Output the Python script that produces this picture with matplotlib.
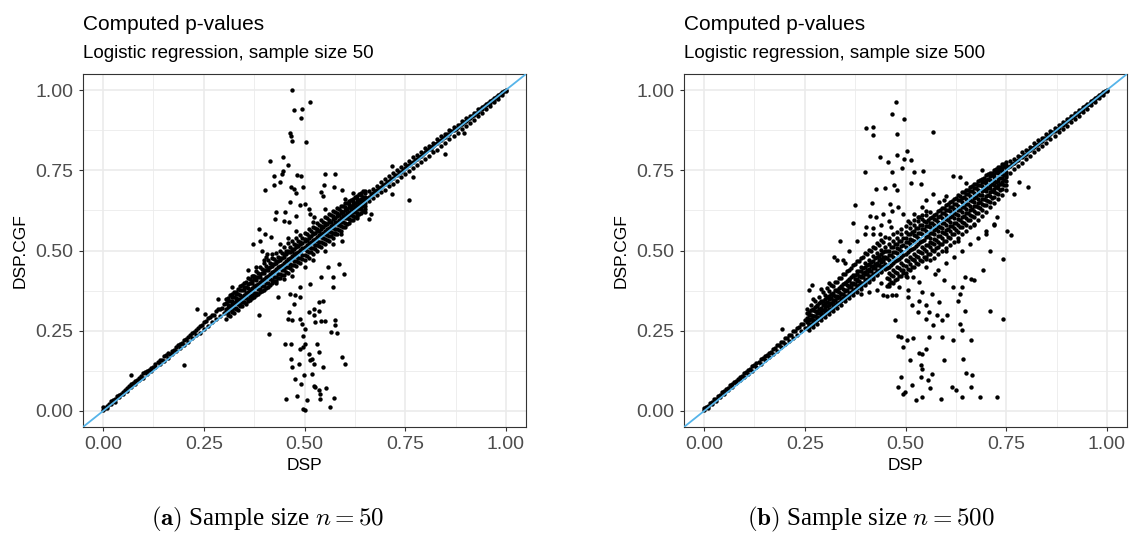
import matplotlib
matplotlib.use('Agg')
import matplotlib.pyplot as plt

plt.rcParams['font.family'] = ['Liberation Sans', 'DejaVu Sans']
plt.rcParams['mathtext.fontset'] = 'cm'

# ---- data: DSP (x) vs DSP.CGF (y) ----
tick_vals = [0.0, 0.25, 0.5, 0.75, 1.0]
tick_labels = ['0.00', '0.25', '0.50', '0.75', '1.00']
minor_vals = [0.125, 0.375, 0.625, 0.875]

# dense band along the diagonal, n = 50: DSP -> list of DSP.CGF values
band_a = {
    0.00: [0.004, 0.012], 0.01: [0.016, 0.008], 0.02: [0.030, 0.022], 0.03: [0.036, 0.028],
    0.04: [0.050, 0.044], 0.05: [0.058, 0.052], 0.06: [0.070, 0.062], 0.07: [0.083, 0.074],
    0.08: [0.092, 0.085], 0.09: [0.104, 0.095], 0.10: [0.118, 0.104], 0.11: [0.126, 0.116],
    0.12: [0.135, 0.124], 0.13: [0.146, 0.136], 0.14: [0.158, 0.145], 0.15: [0.170, 0.156],
    0.16: [0.182, 0.165], 0.17: [0.186, 0.176], 0.18: [0.198, 0.186], 0.19: [0.210, 0.195],
    0.20: [0.222, 0.205], 0.21: [0.230, 0.214], 0.22: [0.244, 0.226], 0.23: [0.252, 0.236],
    0.24: [0.266, 0.244], 0.25: [0.276, 0.256], 0.26: [0.290, 0.266], 0.27: [0.300, 0.276],
    0.28: [0.312, 0.286], 0.29: [0.318, 0.296], 0.30: [0.334, 0.306],
    0.005: [0.010], 0.015: [0.022], 0.025: [0.034], 0.035: [0.046], 0.045: [0.054],
    0.055: [0.066], 0.065: [0.078], 0.075: [0.086], 0.085: [0.098], 0.095: [0.108],
    0.105: [0.122], 0.115: [0.128], 0.125: [0.138], 0.135: [0.152], 0.145: [0.160],
    0.155: [0.174], 0.165: [0.176], 0.175: [0.190], 0.185: [0.204], 0.195: [0.212],
    0.205: [0.224], 0.215: [0.236], 0.225: [0.246], 0.235: [0.260], 0.245: [0.268],
    0.255: [0.280], 0.265: [0.292], 0.275: [0.300], 0.285: [0.318], 0.295: [0.322],
    0.31: [0.352, 0.330, 0.318, 0.300], 0.32: [0.366, 0.342, 0.326, 0.308],
    0.33: [0.372, 0.352, 0.338, 0.318], 0.34: [0.388, 0.362, 0.344, 0.326],
    0.35: [0.398, 0.376, 0.356, 0.338], 0.36: [0.414, 0.384, 0.366, 0.342],
    0.37: [0.420, 0.398, 0.376, 0.352], 0.38: [0.436, 0.408, 0.386, 0.360],
    0.39: [0.448, 0.418, 0.396, 0.372], 0.40: [0.462, 0.430, 0.404, 0.378],
    0.41: [0.470, 0.440, 0.416, 0.386], 0.42: [0.478, 0.452, 0.426, 0.398],
    0.43: [0.492, 0.462, 0.436, 0.404], 0.44: [0.500, 0.470, 0.446, 0.414],
    0.45: [0.510, 0.480, 0.452, 0.424], 0.46: [0.522, 0.494, 0.466, 0.430],
    0.47: [0.530, 0.500, 0.476, 0.440], 0.48: [0.538, 0.510, 0.482, 0.452],
    0.49: [0.548, 0.520, 0.494, 0.460], 0.50: [0.556, 0.530, 0.504, 0.470],
    0.51: [0.566, 0.540, 0.512, 0.478], 0.52: [0.574, 0.550, 0.524, 0.490],
    0.53: [0.586, 0.560, 0.530, 0.500], 0.54: [0.594, 0.568, 0.542, 0.510],
    0.55: [0.604, 0.578, 0.552, 0.520], 0.56: [0.614, 0.590, 0.562, 0.530],
    0.57: [0.624, 0.598, 0.570, 0.540], 0.58: [0.632, 0.606, 0.582, 0.552],
    0.59: [0.640, 0.616, 0.590, 0.562], 0.60: [0.648, 0.626, 0.600, 0.574],
    0.61: [0.654, 0.634, 0.610, 0.586], 0.62: [0.662, 0.642, 0.620, 0.596],
    0.63: [0.670, 0.650, 0.630, 0.606], 0.64: [0.678, 0.660, 0.640, 0.618],
    0.65: [0.686, 0.668, 0.648, 0.628],
    0.305: [0.335, 0.312], 0.315: [0.342, 0.318], 0.325: [0.356, 0.322], 0.335: [0.366, 0.332],
    0.345: [0.378, 0.340], 0.355: [0.386, 0.352], 0.365: [0.398, 0.358], 0.375: [0.410, 0.368],
    0.385: [0.418, 0.380], 0.395: [0.430, 0.388], 0.405: [0.438, 0.398], 0.415: [0.448, 0.410],
    0.425: [0.458, 0.418], 0.435: [0.468, 0.428], 0.445: [0.478, 0.438], 0.455: [0.488, 0.448],
    0.465: [0.496, 0.458], 0.475: [0.506, 0.468], 0.485: [0.514, 0.478], 0.495: [0.524, 0.486],
    0.505: [0.534, 0.498], 0.515: [0.544, 0.508], 0.525: [0.554, 0.518], 0.535: [0.562, 0.528],
    0.545: [0.572, 0.538], 0.555: [0.582, 0.548], 0.565: [0.590, 0.558], 0.575: [0.600, 0.568],
    0.585: [0.610, 0.580], 0.595: [0.620, 0.590], 0.605: [0.628, 0.600], 0.615: [0.638, 0.610],
    0.625: [0.648, 0.620], 0.635: [0.656, 0.630], 0.645: [0.666, 0.640],
    0.66: [0.684, 0.668, 0.654], 0.67: [0.692, 0.678, 0.664], 0.68: [0.702, 0.688, 0.672],
    0.69: [0.712, 0.698, 0.682], 0.70: [0.722, 0.708, 0.690], 0.71: [0.732, 0.716, 0.700],
    0.72: [0.742, 0.726, 0.708], 0.73: [0.752, 0.736, 0.718], 0.74: [0.760, 0.746, 0.728],
    0.75: [0.770, 0.756, 0.738], 0.76: [0.780, 0.766, 0.748], 0.77: [0.790, 0.776, 0.756],
    0.78: [0.798, 0.786, 0.766], 0.79: [0.808, 0.796, 0.776], 0.80: [0.818, 0.806, 0.786],
    0.81: [0.826, 0.816, 0.796], 0.82: [0.836, 0.826, 0.806], 0.83: [0.846, 0.836, 0.814],
    0.84: [0.856, 0.844, 0.826], 0.85: [0.864, 0.854, 0.834], 0.86: [0.874, 0.864, 0.846],
    0.87: [0.884, 0.874, 0.856], 0.88: [0.892, 0.884, 0.866], 0.89: [0.902, 0.894, 0.878],
    0.90: [0.912, 0.904, 0.888], 0.91: [0.920, 0.914, 0.898], 0.92: [0.930, 0.922, 0.908],
    0.93: [0.940, 0.932, 0.918], 0.94: [0.948, 0.942, 0.930], 0.95: [0.958, 0.952, 0.940],
    0.96: [0.966, 0.960, 0.950], 0.97: [0.976, 0.970, 0.962], 0.98: [0.986, 0.980, 0.972],
    0.99: [0.994, 0.990, 0.984], 1.00: [1.000, 0.996],
    0.655: [0.664], 0.665: [0.676], 0.675: [0.684], 0.685: [0.694], 0.695: [0.704],
    0.705: [0.714], 0.715: [0.722], 0.725: [0.734], 0.735: [0.744], 0.745: [0.752],
    0.755: [0.762], 0.765: [0.774], 0.775: [0.782], 0.785: [0.792], 0.795: [0.802],
    0.805: [0.812], 0.815: [0.822], 0.825: [0.832], 0.835: [0.842], 0.845: [0.852],
    0.855: [0.862], 0.865: [0.872], 0.875: [0.880], 0.885: [0.890], 0.895: [0.900],
    0.905: [0.910], 0.915: [0.920], 0.925: [0.930], 0.935: [0.940], 0.945: [0.950],
    0.955: [0.960], 0.965: [0.968], 0.975: [0.978], 0.985: [0.988], 0.995: [0.998],
}

# more points filling the thick middle of the n = 50 band
band_a_mid = {
    0.31: [0.342, 0.322, 0.306], 0.32: [0.354, 0.332, 0.312], 0.33: [0.364, 0.342, 0.322],
    0.34: [0.376, 0.350, 0.330], 0.35: [0.386, 0.362, 0.340], 0.36: [0.396, 0.372, 0.350],
    0.37: [0.406, 0.382, 0.360], 0.38: [0.418, 0.392, 0.368], 0.39: [0.426, 0.402, 0.380],
    0.40: [0.438, 0.412, 0.388], 0.41: [0.446, 0.422, 0.398], 0.42: [0.458, 0.432, 0.408],
    0.43: [0.468, 0.442, 0.418], 0.44: [0.478, 0.452, 0.426], 0.45: [0.488, 0.462, 0.438],
    0.46: [0.498, 0.472, 0.448], 0.47: [0.506, 0.482, 0.456], 0.48: [0.516, 0.492, 0.468],
    0.49: [0.526, 0.502, 0.478], 0.50: [0.536, 0.512, 0.486], 0.51: [0.546, 0.522, 0.496],
    0.52: [0.556, 0.532, 0.508], 0.53: [0.566, 0.542, 0.516], 0.54: [0.576, 0.552, 0.526],
    0.55: [0.586, 0.560, 0.536], 0.56: [0.596, 0.570, 0.546], 0.57: [0.606, 0.580, 0.556],
    0.58: [0.616, 0.590, 0.566], 0.59: [0.624, 0.600, 0.576], 0.60: [0.634, 0.610, 0.586],
    0.61: [0.644, 0.620, 0.598], 0.62: [0.652, 0.630, 0.608], 0.63: [0.662, 0.640, 0.618],
    0.64: [0.672, 0.650, 0.628], 0.65: [0.680, 0.660, 0.638],
    0.305: [0.348, 0.318, 0.286], 0.315: [0.360, 0.328, 0.296], 0.325: [0.370, 0.336, 0.306],
    0.335: [0.380, 0.348, 0.316], 0.345: [0.392, 0.356, 0.326], 0.355: [0.402, 0.368, 0.334],
    0.365: [0.410, 0.376, 0.346], 0.375: [0.422, 0.388, 0.354], 0.385: [0.430, 0.396, 0.364],
    0.395: [0.442, 0.408, 0.374], 0.405: [0.452, 0.416, 0.384], 0.415: [0.460, 0.428, 0.394],
    0.425: [0.472, 0.436, 0.404], 0.435: [0.480, 0.448, 0.414], 0.445: [0.492, 0.456, 0.424],
    0.455: [0.500, 0.468, 0.434], 0.465: [0.512, 0.476, 0.444], 0.475: [0.520, 0.488, 0.454],
    0.485: [0.530, 0.496, 0.464], 0.495: [0.540, 0.508, 0.474], 0.505: [0.550, 0.516, 0.484],
    0.515: [0.560, 0.528, 0.494], 0.525: [0.570, 0.536, 0.504], 0.535: [0.580, 0.548, 0.514],
    0.545: [0.590, 0.556, 0.524], 0.555: [0.600, 0.568, 0.534], 0.565: [0.610, 0.576, 0.544],
    0.575: [0.620, 0.588, 0.554], 0.585: [0.628, 0.596, 0.564], 0.595: [0.638, 0.608, 0.574],
    0.605: [0.648, 0.616, 0.584], 0.615: [0.658, 0.628, 0.594], 0.625: [0.666, 0.636, 0.604],
    0.635: [0.676, 0.646, 0.614], 0.645: [0.686, 0.656, 0.624],
}

# scattered points off the band, n = 50
cloud_a = [
    (0.468, 1.000), (0.514, 0.964), (0.473, 0.939), (0.495, 0.941), (0.492, 0.913),
    (0.463, 0.866), (0.466, 0.858), (0.470, 0.840), (0.503, 0.839), (0.414, 0.780),
    (0.446, 0.790), (0.458, 0.765), (0.446, 0.749), (0.443, 0.739), (0.424, 0.733),
    (0.481, 0.735), (0.492, 0.731), (0.551, 0.737), (0.576, 0.739), (0.424, 0.705),
    (0.439, 0.712), (0.401, 0.690), (0.466, 0.697), (0.474, 0.692), (0.496, 0.697),
    (0.479, 0.679), (0.548, 0.705), (0.573, 0.697), (0.594, 0.687), (0.541, 0.682),
    (0.545, 0.671), (0.464, 0.650), (0.488, 0.642), (0.501, 0.645), (0.430, 0.621),
    (0.452, 0.619), (0.479, 0.609), (0.510, 0.630), (0.514, 0.614), (0.523, 0.604),
    (0.426, 0.599), (0.450, 0.593), (0.461, 0.588), (0.388, 0.567), (0.401, 0.552),
    (0.417, 0.541), (0.390, 0.531), (0.371, 0.521), (0.395, 0.500), (0.408, 0.490),
    (0.404, 0.479), (0.360, 0.438), (0.373, 0.421), (0.558, 0.562), (0.576, 0.552),
    (0.594, 0.531), (0.598, 0.427), (0.572, 0.417), (0.558, 0.448), (0.585, 0.459),
    (0.572, 0.386), (0.541, 0.417), (0.514, 0.396),
    (0.413, 0.241), (0.386, 0.298), (0.435, 0.355), (0.463, 0.363), (0.474, 0.334),
    (0.477, 0.360), (0.488, 0.355), (0.488, 0.386), (0.461, 0.308), (0.459, 0.287),
    (0.468, 0.282), (0.490, 0.287), (0.494, 0.272), (0.501, 0.256), (0.511, 0.308),
    (0.523, 0.318), (0.523, 0.298), (0.536, 0.313), (0.536, 0.339), (0.545, 0.344),
    (0.527, 0.277), (0.541, 0.280), (0.551, 0.280), (0.576, 0.282), (0.576, 0.267),
    (0.567, 0.246), (0.580, 0.243), (0.466, 0.210), (0.452, 0.210), (0.496, 0.235),
    (0.501, 0.210), (0.496, 0.199), (0.488, 0.194), (0.532, 0.210), (0.536, 0.184),
    (0.523, 0.147), (0.519, 0.163), (0.466, 0.163), (0.486, 0.147), (0.510, 0.178),
    (0.514, 0.158), (0.547, 0.137), (0.594, 0.168), (0.601, 0.147), (0.476, 0.099),
    (0.498, 0.111), (0.519, 0.116), (0.523, 0.078), (0.527, 0.075), (0.536, 0.064),
    (0.554, 0.070), (0.539, 0.054), (0.539, 0.038), (0.455, 0.038), (0.481, 0.046),
    (0.507, 0.033), (0.496, 0.005), (0.501, 0.002), (0.573, 0.041), (0.563, 0.012),
    (0.492, 0.085), (0.470, 0.137),
    (0.200, 0.144), (0.234, 0.318), (0.254, 0.303), (0.068, 0.111), (0.284, 0.350),
    (0.320, 0.386), (0.897, 0.866), (0.848, 0.801), (0.760, 0.656), (0.717, 0.676),
    (0.717, 0.762), (0.660, 0.599), (0.664, 0.614), (0.770, 0.728), (0.815, 0.816),
    (0.38, 0.45), (0.40, 0.47), (0.42, 0.49), (0.44, 0.52), (0.46, 0.54), (0.43, 0.40),
    (0.45, 0.41), (0.47, 0.42), (0.50, 0.45), (0.52, 0.47), (0.55, 0.50), (0.57, 0.52),
    (0.59, 0.55), (0.60, 0.66), (0.62, 0.68), (0.63, 0.60), (0.65, 0.62), (0.48, 0.56),
    (0.52, 0.59), (0.55, 0.63),
]

# dense band along the diagonal, n = 500
band_b = {
    0.00: [0.004, 0.010], 0.01: [0.016, 0.010], 0.02: [0.028, 0.022], 0.03: [0.038, 0.032],
    0.04: [0.050, 0.043], 0.05: [0.062, 0.054], 0.06: [0.072, 0.064], 0.07: [0.084, 0.075],
    0.08: [0.094, 0.086], 0.09: [0.106, 0.096], 0.10: [0.118, 0.106], 0.11: [0.128, 0.116],
    0.12: [0.140, 0.126], 0.13: [0.150, 0.137], 0.14: [0.162, 0.146], 0.15: [0.172, 0.158],
    0.16: [0.182, 0.168], 0.17: [0.194, 0.178], 0.18: [0.204, 0.188], 0.19: [0.214, 0.198],
    0.20: [0.226, 0.208], 0.21: [0.236, 0.218], 0.22: [0.248, 0.228], 0.23: [0.258, 0.238],
    0.24: [0.270, 0.248], 0.25: [0.282, 0.258],
    0.005: [0.012], 0.015: [0.026], 0.025: [0.036], 0.035: [0.048], 0.045: [0.058],
    0.055: [0.068], 0.065: [0.080], 0.075: [0.090], 0.085: [0.100], 0.095: [0.110],
    0.105: [0.122], 0.115: [0.132], 0.125: [0.144], 0.135: [0.152], 0.145: [0.164],
    0.155: [0.174], 0.165: [0.184], 0.175: [0.196], 0.185: [0.206], 0.195: [0.216],
    0.205: [0.228], 0.215: [0.238], 0.225: [0.250], 0.235: [0.262], 0.245: [0.270],
    0.26: [0.300, 0.284, 0.272, 0.262], 0.27: [0.316, 0.296, 0.282, 0.272],
    0.28: [0.330, 0.310, 0.294, 0.282], 0.29: [0.344, 0.322, 0.306, 0.292],
    0.30: [0.362, 0.336, 0.318, 0.302], 0.31: [0.374, 0.348, 0.330, 0.312],
    0.32: [0.388, 0.362, 0.340, 0.322], 0.33: [0.402, 0.374, 0.352, 0.332],
    0.34: [0.414, 0.386, 0.364, 0.342], 0.35: [0.428, 0.400, 0.376, 0.352],
    0.36: [0.440, 0.412, 0.388, 0.362], 0.37: [0.454, 0.424, 0.398, 0.372],
    0.38: [0.466, 0.436, 0.410, 0.382], 0.39: [0.478, 0.448, 0.420, 0.390],
    0.40: [0.492, 0.460, 0.432, 0.400], 0.41: [0.502, 0.470, 0.442, 0.408],
    0.42: [0.512, 0.482, 0.452, 0.418], 0.43: [0.524, 0.492, 0.462, 0.426],
    0.44: [0.534, 0.502, 0.472, 0.436], 0.45: [0.542, 0.512, 0.480, 0.444],
    0.255: [0.318, 0.276], 0.265: [0.330, 0.286], 0.275: [0.344, 0.296], 0.285: [0.356, 0.306],
    0.295: [0.370, 0.316], 0.305: [0.382, 0.326], 0.315: [0.394, 0.336], 0.325: [0.402, 0.346],
    0.335: [0.414, 0.356], 0.345: [0.426, 0.366], 0.355: [0.436, 0.376], 0.365: [0.446, 0.386],
    0.375: [0.458, 0.396], 0.385: [0.468, 0.406], 0.395: [0.480, 0.416], 0.405: [0.490, 0.426],
    0.415: [0.500, 0.436], 0.425: [0.508, 0.446], 0.435: [0.518, 0.456], 0.445: [0.528, 0.466],
    0.46: [0.540, 0.500, 0.470, 0.430, 0.390], 0.47: [0.550, 0.512, 0.480, 0.440, 0.400],
    0.48: [0.558, 0.520, 0.492, 0.450, 0.410], 0.49: [0.566, 0.530, 0.500, 0.460, 0.420],
    0.50: [0.576, 0.540, 0.510, 0.470, 0.430], 0.51: [0.586, 0.550, 0.520, 0.480, 0.440],
    0.52: [0.594, 0.560, 0.530, 0.490, 0.450], 0.53: [0.604, 0.570, 0.540, 0.500, 0.458],
    0.54: [0.612, 0.580, 0.550, 0.510, 0.466], 0.55: [0.622, 0.590, 0.560, 0.518, 0.474],
    0.56: [0.600, 0.572, 0.540, 0.510, 0.470], 0.57: [0.612, 0.580, 0.550, 0.520, 0.478],
    0.58: [0.622, 0.590, 0.560, 0.528, 0.488], 0.59: [0.632, 0.600, 0.570, 0.540, 0.498],
    0.60: [0.642, 0.610, 0.580, 0.550, 0.508], 0.61: [0.652, 0.622, 0.590, 0.560, 0.518],
    0.62: [0.662, 0.630, 0.600, 0.570, 0.528], 0.63: [0.672, 0.640, 0.610, 0.580, 0.540],
    0.64: [0.682, 0.652, 0.620, 0.590, 0.550], 0.65: [0.690, 0.660, 0.630, 0.600, 0.560],
    0.66: [0.698, 0.670, 0.640, 0.612, 0.572], 0.67: [0.708, 0.680, 0.652, 0.622, 0.584],
    0.68: [0.716, 0.690, 0.662, 0.634, 0.596], 0.69: [0.724, 0.700, 0.672, 0.646, 0.608],
    0.70: [0.734, 0.710, 0.684, 0.658, 0.620], 0.71: [0.742, 0.720, 0.694, 0.670, 0.634],
    0.72: [0.752, 0.730, 0.704, 0.682, 0.648], 0.73: [0.760, 0.740, 0.716, 0.694, 0.660],
    0.74: [0.768, 0.748, 0.726, 0.706, 0.674], 0.75: [0.776, 0.758, 0.736, 0.718, 0.688],
    0.455: [0.476, 0.414], 0.465: [0.486, 0.424], 0.475: [0.496, 0.434], 0.485: [0.506, 0.446],
    0.495: [0.516, 0.454], 0.505: [0.526, 0.466], 0.515: [0.534, 0.474], 0.525: [0.546, 0.484],
    0.535: [0.556, 0.494], 0.545: [0.566, 0.504], 0.555: [0.576, 0.516], 0.565: [0.586, 0.524],
    0.575: [0.596, 0.534], 0.585: [0.606, 0.546], 0.595: [0.616, 0.554], 0.605: [0.626, 0.566],
    0.615: [0.636, 0.576], 0.625: [0.646, 0.586], 0.635: [0.656, 0.596], 0.645: [0.666, 0.608],
    0.655: [0.676, 0.618], 0.665: [0.686, 0.630], 0.675: [0.696, 0.640], 0.685: [0.704, 0.652],
    0.695: [0.714, 0.662], 0.705: [0.724, 0.674], 0.715: [0.734, 0.686], 0.725: [0.744, 0.698],
    0.735: [0.752, 0.708], 0.745: [0.762, 0.720],
    0.76: [0.778, 0.762, 0.742], 0.77: [0.786, 0.772, 0.754], 0.78: [0.796, 0.782, 0.764],
    0.79: [0.806, 0.792, 0.774], 0.80: [0.814, 0.802, 0.784], 0.81: [0.824, 0.812, 0.794],
    0.82: [0.834, 0.822, 0.806], 0.83: [0.844, 0.832, 0.816], 0.84: [0.852, 0.842, 0.826],
    0.85: [0.862, 0.852, 0.836], 0.86: [0.872, 0.862, 0.846], 0.87: [0.882, 0.872, 0.858],
    0.88: [0.890, 0.882, 0.868], 0.89: [0.900, 0.892, 0.878], 0.90: [0.910, 0.902, 0.888],
    0.91: [0.920, 0.912, 0.900], 0.92: [0.930, 0.922, 0.910], 0.93: [0.938, 0.932, 0.920],
    0.94: [0.948, 0.942, 0.932], 0.95: [0.958, 0.952, 0.942], 0.96: [0.966, 0.962, 0.954],
    0.97: [0.976, 0.972, 0.964], 0.98: [0.986, 0.982, 0.974], 0.99: [0.994, 0.992, 0.986],
    1.00: [1.000, 0.998],
    0.755: [0.760], 0.765: [0.770], 0.775: [0.778], 0.785: [0.790], 0.795: [0.798],
    0.805: [0.810], 0.815: [0.818], 0.825: [0.830], 0.835: [0.838], 0.845: [0.850],
    0.855: [0.858], 0.865: [0.870], 0.875: [0.878], 0.885: [0.890], 0.895: [0.898],
    0.905: [0.910], 0.915: [0.918], 0.925: [0.930], 0.935: [0.938], 0.945: [0.950],
    0.955: [0.958], 0.965: [0.970], 0.975: [0.978], 0.985: [0.988], 0.995: [0.998],
}

# more points filling the thick middle of the n = 500 band
band_b_mid = {
    0.26: [0.308, 0.286, 0.268, 0.252], 0.27: [0.318, 0.297, 0.278, 0.263],
    0.28: [0.327, 0.306, 0.289, 0.272], 0.29: [0.339, 0.316, 0.298, 0.283],
    0.30: [0.348, 0.327, 0.308, 0.292], 0.31: [0.357, 0.336, 0.319, 0.301],
    0.32: [0.369, 0.346, 0.328, 0.313], 0.33: [0.378, 0.357, 0.337, 0.322],
    0.34: [0.389, 0.366, 0.349, 0.331], 0.35: [0.398, 0.375, 0.358, 0.343],
    0.36: [0.407, 0.387, 0.368, 0.352], 0.37: [0.419, 0.396, 0.377, 0.361],
    0.38: [0.428, 0.405, 0.389, 0.372], 0.39: [0.437, 0.417, 0.398, 0.381],
    0.40: [0.449, 0.426, 0.407, 0.393], 0.41: [0.458, 0.435, 0.419, 0.402],
    0.42: [0.467, 0.447, 0.428, 0.411], 0.43: [0.479, 0.456, 0.437, 0.423],
    0.44: [0.488, 0.465, 0.449, 0.432], 0.45: [0.497, 0.477, 0.458, 0.441],
    0.255: [0.305, 0.290, 0.260], 0.265: [0.316, 0.299, 0.271], 0.275: [0.324, 0.311, 0.279],
    0.285: [0.336, 0.319, 0.291], 0.295: [0.344, 0.331, 0.299], 0.305: [0.356, 0.339, 0.311],
    0.315: [0.364, 0.351, 0.319], 0.325: [0.376, 0.359, 0.331], 0.335: [0.384, 0.371, 0.339],
    0.345: [0.396, 0.379, 0.351], 0.355: [0.404, 0.391, 0.359], 0.365: [0.416, 0.399, 0.371],
    0.375: [0.424, 0.411, 0.379], 0.385: [0.436, 0.419, 0.391], 0.395: [0.444, 0.431, 0.399],
    0.405: [0.456, 0.439, 0.411], 0.415: [0.464, 0.451, 0.419], 0.425: [0.476, 0.459, 0.431],
    0.435: [0.484, 0.471, 0.439], 0.445: [0.496, 0.479, 0.451],
    0.46: [0.520, 0.486, 0.450, 0.410], 0.47: [0.531, 0.495, 0.461, 0.419],
    0.48: [0.539, 0.507, 0.469, 0.431], 0.49: [0.551, 0.515, 0.481, 0.439],
    0.50: [0.559, 0.527, 0.489, 0.451], 0.51: [0.571, 0.535, 0.501, 0.459],
    0.52: [0.579, 0.547, 0.509, 0.471], 0.53: [0.591, 0.555, 0.521, 0.479],
    0.54: [0.599, 0.567, 0.529, 0.491], 0.55: [0.611, 0.575, 0.541, 0.499],
    0.56: [0.586, 0.556, 0.526, 0.490], 0.57: [0.597, 0.565, 0.537, 0.499],
    0.58: [0.605, 0.577, 0.545, 0.511], 0.59: [0.617, 0.585, 0.557, 0.519],
    0.60: [0.625, 0.597, 0.565, 0.531], 0.61: [0.637, 0.605, 0.577, 0.539],
    0.62: [0.645, 0.617, 0.585, 0.551], 0.63: [0.657, 0.625, 0.597, 0.559],
    0.64: [0.665, 0.637, 0.605, 0.573], 0.65: [0.677, 0.645, 0.617, 0.581],
    0.66: [0.685, 0.657, 0.625, 0.595], 0.67: [0.695, 0.665, 0.639, 0.603],
    0.68: [0.703, 0.677, 0.647, 0.617], 0.69: [0.713, 0.685, 0.661, 0.627],
    0.70: [0.721, 0.697, 0.669, 0.641], 0.71: [0.733, 0.705, 0.683, 0.651],
    0.72: [0.739, 0.717, 0.691, 0.667], 0.73: [0.751, 0.725, 0.705, 0.677],
    0.74: [0.757, 0.737, 0.715, 0.691], 0.75: [0.767, 0.745, 0.729, 0.703],
    0.455: [0.500, 0.445, 0.390], 0.465: [0.511, 0.454, 0.401], 0.475: [0.519, 0.466, 0.409],
    0.485: [0.531, 0.474, 0.421], 0.495: [0.539, 0.486, 0.429], 0.505: [0.551, 0.494, 0.441],
    0.515: [0.559, 0.506, 0.449], 0.525: [0.571, 0.514, 0.461], 0.535: [0.579, 0.526, 0.469],
    0.545: [0.591, 0.534, 0.481], 0.555: [0.596, 0.546, 0.489], 0.565: [0.605, 0.554, 0.501],
    0.575: [0.613, 0.566, 0.509], 0.585: [0.625, 0.574, 0.521], 0.595: [0.633, 0.586, 0.529],
    0.605: [0.645, 0.594, 0.543], 0.615: [0.653, 0.606, 0.551], 0.625: [0.663, 0.614, 0.563],
    0.635: [0.671, 0.626, 0.573], 0.645: [0.683, 0.634, 0.585], 0.655: [0.689, 0.646, 0.595],
    0.665: [0.701, 0.654, 0.607], 0.675: [0.707, 0.666, 0.617], 0.685: [0.719, 0.674, 0.631],
    0.695: [0.725, 0.687, 0.641], 0.705: [0.737, 0.695, 0.655], 0.715: [0.743, 0.707, 0.665],
    0.725: [0.753, 0.715, 0.679], 0.735: [0.759, 0.727, 0.689], 0.745: [0.769, 0.735, 0.703],
}

# scattered points off the band, n = 500
cloud_b = [
    (0.476, 0.962), (0.467, 0.925), (0.496, 0.910), (0.479, 0.863), (0.569, 0.868),
    (0.403, 0.881), (0.419, 0.884), (0.420, 0.861), (0.504, 0.811), (0.436, 0.790),
    (0.457, 0.777), (0.479, 0.799), (0.496, 0.785), (0.513, 0.783), (0.399, 0.746),
    (0.467, 0.744), (0.492, 0.756), (0.520, 0.744), (0.544, 0.747), (0.426, 0.692),
    (0.448, 0.695), (0.472, 0.705), (0.479, 0.689), (0.513, 0.710), (0.538, 0.707),
    (0.417, 0.647), (0.462, 0.645), (0.467, 0.624), (0.481, 0.637), (0.375, 0.643),
    (0.370, 0.585), (0.412, 0.606), (0.426, 0.604), (0.443, 0.614), (0.458, 0.593),
    (0.463, 0.573), (0.401, 0.573), (0.419, 0.552), (0.436, 0.552), (0.494, 0.614),
    (0.507, 0.593), (0.520, 0.614), (0.534, 0.604), (0.542, 0.635), (0.551, 0.656),
    (0.569, 0.676), (0.582, 0.650), (0.595, 0.656), (0.617, 0.733), (0.635, 0.730),
    (0.337, 0.531), (0.322, 0.479), (0.344, 0.469), (0.260, 0.376), (0.269, 0.391),
    (0.193, 0.256),
    (0.753, 0.562), (0.763, 0.547), (0.803, 0.697), (0.781, 0.713), (0.770, 0.676),
    (0.741, 0.474), (0.710, 0.500), (0.693, 0.440), (0.670, 0.407), (0.662, 0.412),
    (0.719, 0.583), (0.728, 0.604), (0.701, 0.552),
    (0.474, 0.282), (0.481, 0.235), (0.488, 0.230), (0.489, 0.106), (0.482, 0.075),
    (0.494, 0.054), (0.498, 0.059), (0.516, 0.080), (0.527, 0.033), (0.542, 0.044),
    (0.511, 0.160), (0.534, 0.180), (0.542, 0.178), (0.551, 0.194), (0.538, 0.142),
    (0.558, 0.230), (0.518, 0.228), (0.538, 0.106), (0.542, 0.132), (0.556, 0.095),
    (0.565, 0.116), (0.560, 0.070), (0.587, 0.038), (0.595, 0.158), (0.615, 0.075),
    (0.626, 0.064), (0.640, 0.044), (0.644, 0.163), (0.650, 0.118), (0.664, 0.111),
    (0.662, 0.075), (0.684, 0.044), (0.728, 0.044), (0.591, 0.230), (0.617, 0.220),
    (0.635, 0.272), (0.640, 0.251), (0.662, 0.220), (0.604, 0.298), (0.591, 0.282),
    (0.578, 0.298), (0.569, 0.267), (0.551, 0.287), (0.558, 0.308), (0.530, 0.308),
    (0.516, 0.329), (0.534, 0.344), (0.551, 0.329), (0.582, 0.339), (0.507, 0.355),
    (0.507, 0.376), (0.542, 0.370), (0.565, 0.365), (0.631, 0.344), (0.648, 0.313),
    (0.635, 0.365), (0.710, 0.313), (0.741, 0.287), (0.595, 0.407), (0.617, 0.386),
    (0.648, 0.417), (0.640, 0.386), (0.573, 0.427), (0.551, 0.448), (0.534, 0.401),
    (0.518, 0.417), (0.503, 0.417), (0.494, 0.438), (0.485, 0.386), (0.467, 0.360),
    (0.476, 0.360), (0.445, 0.362), (0.454, 0.357), (0.428, 0.376), (0.494, 0.199),
    (0.503, 0.220),
    (0.33, 0.47), (0.35, 0.46), (0.36, 0.50), (0.38, 0.53), (0.40, 0.55), (0.42, 0.57),
    (0.44, 0.58), (0.39, 0.365), (0.41, 0.372), (0.44, 0.40), (0.46, 0.395), (0.58, 0.44),
    (0.60, 0.46), (0.62, 0.48), (0.64, 0.50), (0.66, 0.52), (0.68, 0.54), (0.70, 0.56),
    (0.72, 0.58), (0.60, 0.50), (0.63, 0.53), (0.67, 0.58), (0.56, 0.62), (0.60, 0.67),
    (0.65, 0.71), (0.69, 0.75), (0.52, 0.47), (0.55, 0.48), (0.50, 0.42), (0.31, 0.40),
    (0.29, 0.38), (0.27, 0.35),
]

W, H = 1129, 534
fig = plt.figure(figsize=(W / 100, H / 100), dpi=100)


def points(bands, cloud):
    xs, ys = [], []
    for band in bands:
        for x, vals in band.items():
            for y in vals:
                xs.append(x)
                ys.append(y)
    for x, y in cloud:
        xs.append(x)
        ys.append(y)
    return xs, ys


def draw_panel(left, bands, cloud, subtitle, caption, cap_x):
    # panel box in pixels: left..left+443, top 74, bottom 427
    ax = fig.add_axes([left / W, 1 - 427 / H, 443 / W, 353 / H])
    xs, ys = points(bands, cloud)
    ax.scatter(xs, ys, s=10, c='black', linewidths=0, zorder=3)
    ax.axline((0, 0), slope=1, color='#56B4E9', lw=1.3, zorder=4)

    ax.set_xlim(-0.05, 1.05)
    ax.set_ylim(-0.05, 1.05)
    ax.set_xticks(tick_vals)
    ax.set_xticklabels(tick_labels)
    ax.set_yticks(tick_vals)
    ax.set_yticklabels(tick_labels)
    ax.set_xticks(minor_vals, minor=True)
    ax.set_yticks(minor_vals, minor=True)
    ax.grid(which='major', color='#EBEBEB', lw=1.2)
    ax.grid(which='minor', color='#EBEBEB', lw=0.6)
    ax.set_axisbelow(True)
    ax.tick_params(which='minor', length=0)
    ax.tick_params(which='major', length=2.75, width=0.8, color='#333333',
                   labelsize=14, labelcolor='#4D4D4D')
    ax.tick_params(axis='x', pad=3.5)
    ax.tick_params(axis='y', pad=4)
    for s in ax.spines.values():
        s.set_color('#333333')
        s.set_linewidth(0.8)

    fig.text((left + 221.5) / W, 1 - 465 / H, 'DSP', fontsize=12.5,
             ha='center', va='center')
    fig.text((left - 63) / W, 1 - 250.5 / H, 'DSP.CGF', fontsize=12.5,
             rotation=90, ha='center', va='center')
    fig.text(left / W, 1 - 25 / H, 'Computed p-values', fontsize=15, va='center')
    fig.text(left / W, 1 - 54 / H, subtitle, fontsize=13.5, va='center')
    fig.text(cap_x / W, 1 - 519 / H, caption, fontsize=18, ha='center',
             va='center', family='Liberation Serif')


draw_panel(83, [band_a, band_a_mid], cloud_a, 'Logistic regression, sample size 50',
           r'$\mathbf{(a)}$ Sample size $n = 50$', 268)
draw_panel(684, [band_b, band_b_mid], cloud_b, 'Logistic regression, sample size 500',
           r'$\mathbf{(b)}$ Sample size $n = 500$', 871)

fig.savefig('out.png', dpi=100)
